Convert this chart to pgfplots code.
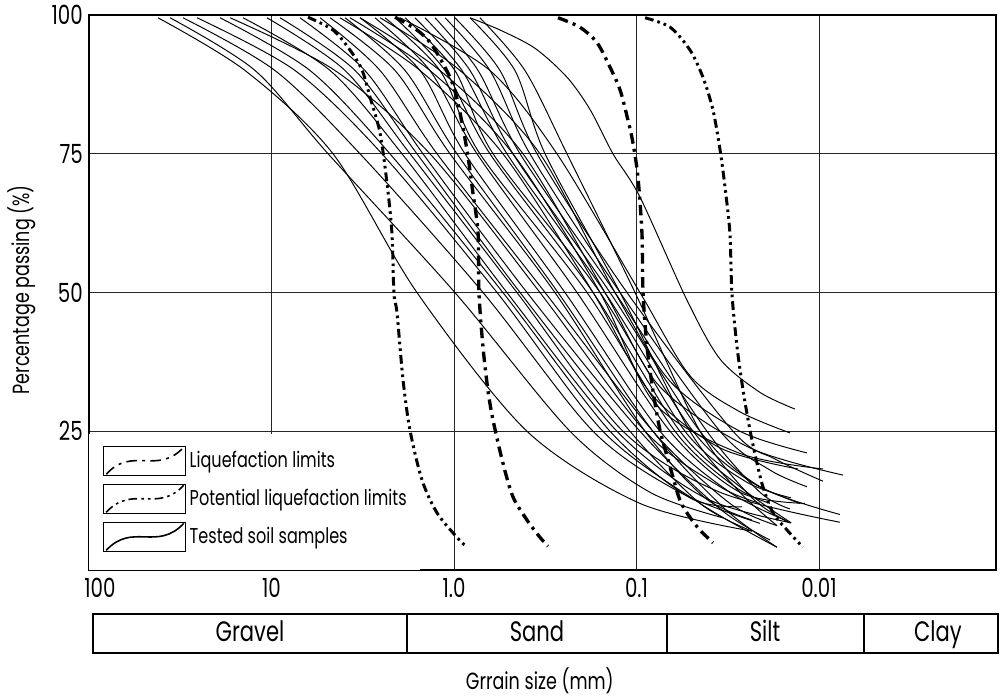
\documentclass[border=0pt]{standalone}
\usepackage{fontspec}
\setmainfont{Poppins}[FakeStretch=0.75]
\usepackage{pgfplots}
\pgfplotsset{compat=1.18}

% x is log10 of the grain size in mm (100 mm = 2, 0.01 mm = -2)
\pgfplotsset{
  sample/.style={black, line width=0.55pt, smooth, forget plot},
  liq/.style={black, line width=1.9pt, dash pattern=on 6pt off 3pt on 1.7pt off 3pt, smooth},
  pot/.style={black, line width=1.7pt, dash pattern=on 5pt off 2.3pt on 1.5pt off 2.3pt on 1.5pt off 2.3pt, smooth},
  boxleg/.style={legend image code/.code={%
    \draw[solid, line width=0.5pt, black] (0cm,-0.29cm) rectangle (1.64cm,0.29cm);
    \draw[line width=0.9pt] (0.05cm,-0.27cm) .. controls (0.57cm,0.3cm) and (1.07cm,-0.3cm) .. (1.6cm,0.27cm);}},
}

\begin{document}
\begin{tikzpicture}
\useasboundingbox (-1.78,-2.58) rectangle (18.22,11.4);
\begin{axis}[
  at={(0,0)}, anchor=south west,
  scale only axis, width=18.14cm, height=11.1cm,
  xmin=-2.97, xmax=2, ymin=0, ymax=100, x dir=reverse,
  xtick={2,1,0,-1,-2}, xticklabels={\hspace*{0.44cm}100,10,1.0,0.1,0.01},
  ytick={25,50,75,100}, yticklabels={25,50,75,100},
  major tick length=0pt,
  grid=major, grid style={black!85, line width=0.5pt},
  axis line style={line width=1.6pt},
  tick label style={font=\fontsize{15}{17}\selectfont},
  xticklabel style={yshift=-1pt},
  ylabel={Percentage passing (\%)},
  ylabel style={font=\fontsize{13.3}{15}\selectfont, at={(axis description cs:-0.074,0.505)}, anchor=center},
  xlabel={Grrain size (mm)},
  xlabel style={font=\fontsize{13.3}{15}\selectfont, at={(axis description cs:0.497,-0.2)}, anchor=center},
  legend cell align=left,
  legend style={at={(rel axis cs:0.0154,0.0306)}, anchor=south west, draw=none, fill=none,
    inner sep=0pt, row sep=0.13cm, font=\fontsize{12.2}{14}\selectfont},
]
\fill[white] (rel axis cs:0,0) rectangle (rel axis cs:0.365,0.245);

\addlegendimage{liq, boxleg}\addlegendentry{Liquefaction limits}
\addlegendimage{pot, boxleg}\addlegendentry{Potential liquefaction limits}
\addlegendimage{black, line width=0.55pt, boxleg}\addlegendentry{Tested soil samples}

% tested soil samples
\addplot[sample] coordinates {(1.622,99.5) (1.145,90) (0.663,75) (0.203,50) (-0.400,25) (-1.019,12) (-1.633,7)};
\addplot[sample] coordinates {(1.556,99.5) (1.090,90) (0.690,75) (-0.005,50) (-0.636,25) (-1.074,14) (-1.474,9.4)};
\addplot[sample] coordinates {(1.485,99.5) (0.981,90) (0.515,75) (-0.159,50) (-0.762,25) (-1.238,14) (-1.677,8.4)};
\addplot[sample] coordinates {(1.408,99.5) (0.871,90) (0.395,75) (-0.236,50) (-0.816,25) (-1.348,12) (-1.770,4.1)};
\addplot[sample] coordinates {(1.282,99.5) (0.789,90) (0.351,75) (-0.268,50) (-0.855,25) (-1.293,13) (-1.578,11.4)};
\addplot[sample] coordinates {(1.156,99.5) (0.679,90) (0.285,75) (-0.290,50) (-0.893,25) (-1.375,13) (-1.847,8.5)};
\addplot[sample] coordinates {(1.025,99.5) (0.597,90) (0.241,75) (-0.345,50) (-0.926,25) (-1.458,14) (-2.115,8.6)};
\addplot[sample] coordinates {(0.953,99.5) (0.542,90) (0.203,75) (-0.362,50) (-0.964,25) (-1.348,12) (-1.633,7)};
\addplot[sample] coordinates {(0.844,99.5) (0.488,90) (0.170,75) (-0.400,50) (-1.019,25) (-1.458,11) (-1.732,5.4)};
\addplot[sample] coordinates {(1.227,99.5) (0.652,90) (0.132,75) (-0.471,50) (-1.047,25) (-1.458,15) (-1.677,12)};
\addplot[sample] coordinates {(0.734,99.5) (0.405,90) (0.093,75) (-0.499,50) (-1.090,25) (-1.512,12) (-1.770,8)};
\addplot[sample] coordinates {(0.679,99.5) (0.323,90) (0.022,75) (-0.553,50) (-1.047,25) (-1.375,13) (-1.633,9)};
\addplot[sample] coordinates {(0.597,99.5) (0.268,90) (-0.016,75) (-0.570,50) (-1.090,25) (-1.485,11) (-1.770,4.1)};
\addplot[sample] coordinates {(0.515,99.5) (0.186,90) (-0.060,75) (-0.608,50) (-1.129,25) (-1.512,14) (-1.847,8.5)};
\addplot[sample] coordinates {(0.433,99.5) (0.132,90) (-0.126,75) (-0.674,50) (-1.184,25) (-1.567,14) (-1.923,12)};
\addplot[sample] coordinates {(0.378,99.5) (0.077,90) (-0.142,75) (-0.729,50) (-1.211,25) (-1.540,15) (-1.732,12)};
\addplot[sample] coordinates {(0.323,99.5) (0.049,90) (-0.197,75) (-0.762,50) (-1.238,25) (-1.567,15) (-1.847,8.5)};
\addplot[sample] coordinates {(0.268,99.5) (-0.005,90) (-0.214,75) (-0.800,50) (-1.266,25) (-1.595,16) (-1.847,13)};
\addplot[sample] coordinates {(0.214,99.5) (-0.044,90) (-0.290,75) (-0.827,50) (-1.310,25) (-1.622,16) (-1.896,12)};
\addplot[sample] coordinates {(0.159,99.5) (-0.088,90) (-0.323,75) (-0.855,50) (-1.348,25) (-1.677,15) (-2.115,10)};
\addplot[sample] coordinates {(0.104,99.5) (-0.132,90) (-0.362,75) (-0.882,50) (-1.386,25) (-1.677,14) (-1.841,11)};
\addplot[sample] coordinates {(0.049,99.5) (-0.197,90) (-0.416,75) (-0.910,50) (-1.458,25) (-1.732,18) (-1.934,15)};
\addplot[sample] coordinates {(-0.005,99.5) (-0.252,90) (-0.455,75) (-0.948,50) (-1.529,25) (-1.759,20) (-2.022,16)};
\addplot[sample] coordinates {(-0.088,99.5) (-0.334,90) (-0.499,75) (-0.910,50) (-1.293,25) (-1.567,14) (-1.770,8)};
\addplot[sample] coordinates {(-0.142,99.5) (-0.389,90) (-0.619,75) (-0.992,50) (-1.348,25) (-1.633,13) (-1.841,8.5)};
\addplot[sample] coordinates {(0.625,99.5) (0.186,90) (-0.268,75) (-0.762,50) (-1.074,32) (-1.458,22) (-1.885,18.2)};
\addplot[sample] coordinates {(0.570,99.5) (0.132,90) (-0.323,75) (-0.800,50) (-1.101,30) (-1.567,21) (-2.022,18.2)};
\addplot[sample] coordinates {(0.515,99.5) (0.077,90) (-0.378,75) (-0.827,50) (-1.129,33) (-1.622,22) (-2.132,17.1)};
\addplot[sample] coordinates {(0.405,99.5) (-0.033,90) (-0.471,75) (-0.882,50) (-1.184,34) (-1.567,25) (-1.934,21.1)};
\addplot[sample] coordinates {(0.296,99.5) (-0.197,90) (-0.564,75) (-1.019,50) (-1.293,35) (-1.567,28.5) (-1.841,24.7)};
\addplot[sample] coordinates {(-0.088,99.5) (-0.252,97.3) (-0.444,94) (-0.619,88.8) (-0.745,83) (-0.871,75) (-1.019,67.2) (-1.277,48.6) (-1.458,38) (-1.677,32) (-1.868,29)};

% potential liquefaction limits
\addplot[pot, forget plot] coordinates {(0.800,99.6) (0.663,97.3) (0.570,93.7) (0.504,90.1) (0.460,85.2) (0.405,78.7) (0.367,69.7) (0.340,60.7) (0.329,49.9) (0.312,46.3) (0.279,34.2) (0.241,25.2) (0.175,16.2) (0.093,10.3) (-0.016,5.9) (-0.071,4.1)};
\addplot[pot, forget plot] coordinates {(-1.047,99.5) (-1.184,97.8) (-1.293,93.7) (-1.364,88.8) (-1.419,82.9) (-1.458,75.7) (-1.485,69.0) (-1.512,60.7) (-1.523,49.9) (-1.551,40.2) (-1.584,32.4) (-1.622,25.2) (-1.660,19.3) (-1.693,15.0) (-1.748,10.3) (-1.825,7.2) (-1.912,4.1)};
% liquefaction limits
\addplot[liq, forget plot] coordinates {(0.323,99.6) (0.203,97.3) (0.121,94.6) (0.022,88.8) (-0.022,84.1) (-0.071,75.7) (-0.104,67.9) (-0.132,60.7) (-0.137,49.9) (-0.159,40.2) (-0.186,32.4) (-0.214,27.0) (-0.268,19.3) (-0.323,13.2) (-0.400,9.0) (-0.471,5.9) (-0.515,4.3)};
\addplot[liq, forget plot] coordinates {(-0.570,99.5) (-0.690,97.8) (-0.784,95.0) (-0.855,90.6) (-0.910,86.5) (-0.953,81.1) (-0.981,76.9) (-1.008,70.8) (-1.030,60.7) (-1.036,49.9) (-1.058,40.2) (-1.090,32.4) (-1.129,25.2) (-1.184,18.6) (-1.238,12.6) (-1.293,9.5) (-1.348,7.2) (-1.419,4.9)};
\end{axis}

% soil classes below the axis
\draw[line width=1.6pt] (0.08,-0.88) rectangle (18.18,-1.66);
\foreach \x in {6.36,11.56,15.5} \draw[line width=0.9pt] (\x,-0.88) -- (\x,-1.66);
\begin{scope}[every node/.style={font=\fontsize{16}{18}\selectfont, text height=0.72em, text depth=0.2em}]
\node at (3.22,-1.34) {Gravel};
\node at (8.96,-1.34) {Sand};
\node at (13.52,-1.34) {Silt};
\node at (16.98,-1.34) {Clay};
\end{scope}
\end{tikzpicture}
\end{document}
